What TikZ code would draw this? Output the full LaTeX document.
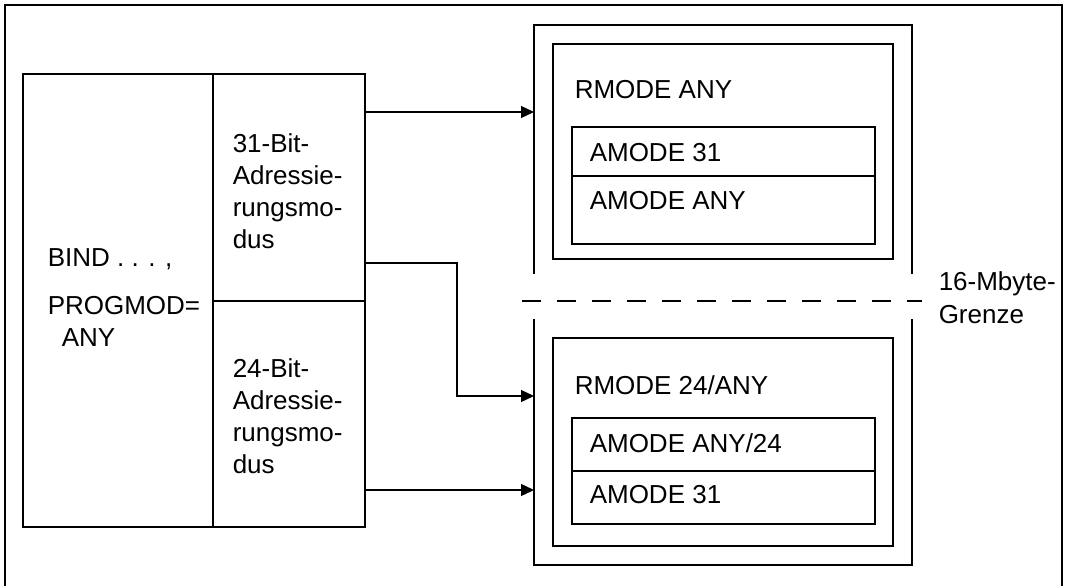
\documentclass[tikz,border=0pt]{standalone}
\usepackage{fontspec}
\setmainfont{Liberation Sans}
\usetikzlibrary{arrows.meta}
\begin{document}
\begin{tikzpicture}[x=1pt,y=-1pt,
  line width=1.5pt,
  every node/.style={inner sep=0pt, font=\fontsize{26}{32}\selectfont},
  lbl/.style={anchor=base west},
  blk/.style={anchor=north west, align=left},
  box/.style={draw, line width=1.5pt},
  conn/.style={line width=1.3pt, -{Triangle[length=13pt,width=12pt]}},
  border/.style={line width=1.5pt},
  limit/.style={line width=1.5pt, dash pattern=on 19pt off 16pt}]
  \useasboundingbox (0,0) rectangle (1068,586);

  % outer frame (open at the bottom)
  \draw[border] (5,590) -- (5,5) -- (1062,5) -- (1062,590);

  % BIND statement with its two address modes
  \coordinate (bnw) at (23,74);
  \coordinate (bse) at (365,527);
  \draw[box] (bnw) rectangle (bse);
  \draw[box] (213,74) -- (213,527);
  \draw[box] (213,301) -- (365,301);
  \node[lbl] (bind) at (47,266) {BIND . . . ,};
  \node[lbl] (progmod) at (47,314) {PROGMOD=};
  \node[lbl] (any) at (61,346) {ANY};
  \node[blk] (m31) at (232,132.5) {31-Bit-\\Adressie-\\rungsmo-\\dus};
  \node[blk] (m24) at (232,357.5) {24-Bit-\\Adressie-\\rungsmo-\\dus};

  % region above 16 Mbyte
  \draw[box] (534,274) -- (534,25) -- (912,25) -- (912,274);
  \draw[box] (553,44) rectangle (893,259);
  \draw[box] (572,127) rectangle (875,244);
  \draw[box] (572,176) -- (875,176);
  \node[lbl] (rany) at (574,99) {RMODE ANY};
  \node[lbl] (a31u) at (589,161) {AMODE 31};
  \node[lbl] (aanyu) at (589,209) {AMODE ANY};

  % region below 16 Mbyte
  \draw[box] (534,319) -- (534,565) -- (912,565) -- (912,319);
  \draw[box] (553,338) rectangle (893,546);
  \draw[box] (572,418) rectangle (875,524);
  \draw[box] (572,471) -- (875,471);
  \node[lbl] (r24) at (574,394) {RMODE 24/ANY};
  \node[lbl] (aany24) at (589,452) {AMODE ANY/24};
  \node[lbl] (a31l) at (589,503) {AMODE 31};

  % 16-Mbyte boundary
  \coordinate (lim0) at (522,301);
  \coordinate (lim1) at (922,301);
  \draw[limit] (lim0) -- (lim1);
  \node[lbl] (grenze1) at (938,290) {16-Mbyte-};
  \node[lbl] (grenze2) at (938,323) {Grenze};

  % connectors
  \coordinate (s1) at (365,112);  \coordinate (t1) at (534,112);
  \coordinate (s2) at (365,263);  \coordinate (k2) at (457,263);
  \coordinate (t2) at (534,396);
  \coordinate (s3) at (365,490);  \coordinate (t3) at (534,490);
  \draw[conn] (s1) -- (t1);
  \draw[conn] (s2) -- (k2) |- (t2);
  \draw[conn] (s3) -- (t3);
\end{tikzpicture}
\end{document}
